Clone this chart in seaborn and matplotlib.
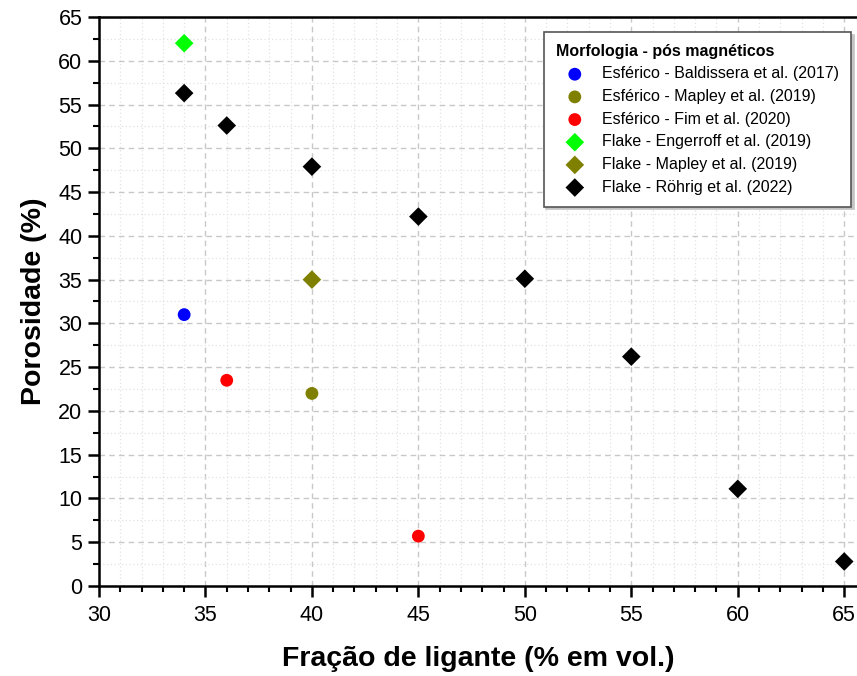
import matplotlib
matplotlib.use("Agg")
import matplotlib.pyplot as plt
from matplotlib.ticker import MultipleLocator
import seaborn as sns
import pandas as pd

sns.set_theme(style="white")
plt.rcParams["font.family"] = ["Liberation Sans", "DejaVu Sans"]
plt.rcParams["text.color"] = "black"
plt.rcParams["axes.labelcolor"] = "black"

# Binder fraction (% vol.) and porosity (%) per source
labels = [
    "Esférico - Baldissera et al. (2017)",
    "Esférico - Mapley et al. (2019)",
    "Esférico - Fim et al. (2020)",
    "Flake - Engerroff et al. (2019)",
    "Flake - Mapley et al. (2019)",
    "Flake - Röhrig et al. (2022)",
]
x_baldissera = [34]
y_baldissera = [31.0]
x_mapley_esf = [40]
y_mapley_esf = [22.0]
x_fim = [36, 45]
y_fim = [23.5, 5.7]
x_engerroff = [34]
y_engerroff = [62.0]
x_mapley_flake = [40]
y_mapley_flake = [35.0]
x_rohrig = [34, 36, 40, 45, 50, 55, 60, 65]
y_rohrig = [56.3, 52.6, 47.9, 42.2, 35.1, 26.2, 11.1, 2.8]

colors = ["#0000ff", "#808000", "#ff0000", "#00ff00", "#808000", "#000000"]
markers = ["o", "o", "o", "D", "D", "D"]
sizes = [85, 85, 85, 90, 90, 90]

xs = [x_baldissera, x_mapley_esf, x_fim, x_engerroff, x_mapley_flake, x_rohrig]
ys = [y_baldissera, y_mapley_esf, y_fim, y_engerroff, y_mapley_flake, y_rohrig]

fig = plt.figure(figsize=(8.57, 6.76), dpi=100)
ax = fig.add_axes([0.1155, 0.1331, 0.8845, 0.8418])

for lab, xv, yv, c, m, s in zip(labels, xs, ys, colors, markers, sizes):
    df = pd.DataFrame({"x": xv, "y": yv})
    sns.scatterplot(data=df, x="x", y="y", ax=ax, color=c, marker=m, s=s,
                    edgecolor="none", linewidth=0, label=lab, zorder=3)

ax.set_xlim(30, 65.6)
ax.set_ylim(0, 65)
ax.xaxis.set_major_locator(MultipleLocator(5))
ax.xaxis.set_minor_locator(MultipleLocator(1))
ax.yaxis.set_major_locator(MultipleLocator(5))
ax.yaxis.set_minor_locator(MultipleLocator(2.5))

ax.grid(True, which="major", color="#c8c8c8", linestyle=(0, (4, 3)), linewidth=1.0)
ax.grid(True, which="minor", color="#e2e2e2", linestyle=(0, (1, 2)), linewidth=0.9)
ax.set_axisbelow(True)

for side in ["left", "bottom", "top"]:
    ax.spines[side].set_visible(True)
    ax.spines[side].set_color("black")
    ax.spines[side].set_linewidth(1.8)
ax.spines["right"].set_visible(False)

ax.tick_params(axis="both", which="major", direction="out", length=8, width=1.8,
               labelsize=15.5, colors="black", labelcolor="black", pad=4)
ax.tick_params(axis="both", which="minor", direction="out", length=4.5, width=1.5,
               colors="black")
ax.tick_params(axis="x", which="both", bottom=True, top=False)
ax.tick_params(axis="y", which="both", left=True, right=False)
ax.tick_params(axis="x", which="major", pad=6)

ax.set_xlabel("Fração de ligante (% em vol.)", fontsize=20.5, fontweight="bold",
              labelpad=14, color="black")
ax.set_ylabel("Porosidade (%)", fontsize=20.5, fontweight="bold", labelpad=8,
              color="black")

leg = ax.legend(title="Morfologia - pós magnéticos", loc="upper right",
                bbox_to_anchor=(0.992, 0.974), borderaxespad=0,
                fontsize=11.5, title_fontsize=11.5,
                frameon=True, fancybox=False, edgecolor="#555555",
                borderpad=0.75, labelspacing=0.48, handletextpad=0.5,
                handlelength=2.4, alignment="left", markerscale=1.0,
                shadow={"color": "#c4c4c4", "alpha": 1.0})
leg.get_title().set_fontweight("bold")
for t in leg.get_texts():
    t.set_color("black")
leg.get_frame().set_linewidth(1.2)
leg.get_frame().set_facecolor("white")
leg.get_frame().set_alpha(1.0)

fig.savefig("out.png", dpi=100)
